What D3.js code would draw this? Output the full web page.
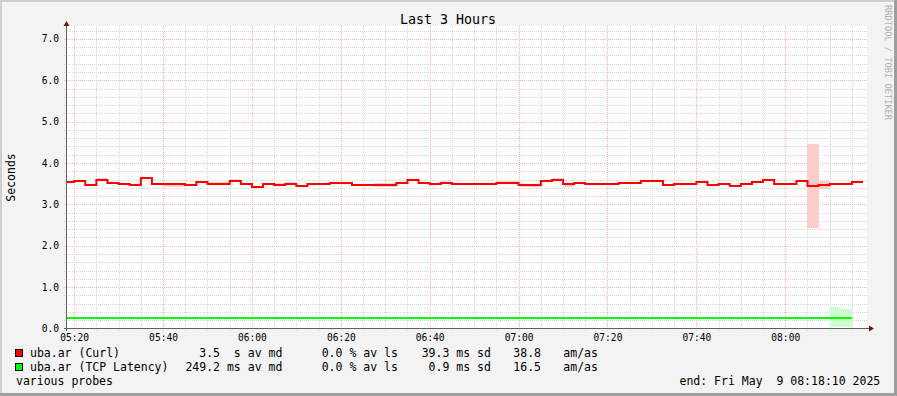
<!DOCTYPE html>
<html><head><meta charset="utf-8">
<script src="https://cdn.jsdelivr.net/npm/d3@7"></script>
<style>
html,body{margin:0;padding:0;background:#fff;}
svg{display:block;}
text{font-family:"DejaVu Sans Mono",monospace;fill:#000;white-space:pre;}
</style></head><body>
<svg id="c" width="897" height="396"></svg>
<script>
// ---------- DATA ----------
const chartTitle = "Last 3 Hours";
const yAxisTitle = "Seconds";
const watermark = "RRDTOOL / TOBI OETIKER";
const timeStart = [2025, 4, 9, 5, 18, 10];   // graph start (local)
const timeEnd   = [2025, 4, 9, 8, 18, 10];   // graph end
const binStart  = [2025, 4, 9, 5, 17, 30];   // first consolidated bin
const binSeconds = 150;

const yMajorTicks = [0, 1, 2, 3, 4, 5, 6, 7];
const yTickLabels = ["0.0", "1.0", "2.0", "3.0", "4.0", "5.0", "6.0", "7.0"];
const yMinorStep = 0.2;
const yMax = 7.3;
const xTickLabels = ["05:20", "05:40", "06:00", "06:20", "06:40", "07:00", "07:20", "07:40", "08:00"];

// Curl median (seconds), per 150 s bin
const curlMedian = [3.53, 3.56, 3.47, 3.58, 3.51, 3.49, 3.47, 3.64, 3.49, 3.49,
  3.49, 3.47, 3.53, 3.49, 3.49, 3.56, 3.49, 3.41, 3.49, 3.47,
  3.49, 3.45, 3.49, 3.49, 3.52, 3.52, 3.47, 3.47, 3.47, 3.47,
  3.52, 3.58, 3.52, 3.49, 3.52, 3.49, 3.49, 3.49, 3.49, 3.52,
  3.52, 3.47, 3.47, 3.56, 3.58, 3.49, 3.52, 3.49, 3.49, 3.49,
  3.52, 3.52, 3.56, 3.56, 3.47, 3.49, 3.49, 3.53, 3.47, 3.49,
  3.45, 3.49, 3.53, 3.58, 3.49, 3.49, 3.56, 3.45, 3.47, 3.49,
  3.49, 3.53];
const curlLow = [3.52, 3.55, 3.46, 3.57, 3.50, 3.48, 3.46, 3.63, 3.48, 3.43,
  3.43, 3.46, 3.52, 3.48, 3.48, 3.55, 3.48, 3.39, 3.48, 3.46,
  3.48, 3.44, 3.48, 3.48, 3.51, 3.51, 3.44, 3.44, 3.41, 3.41,
  3.51, 3.57, 3.51, 3.48, 3.51, 3.48, 3.48, 3.48, 3.48, 3.51,
  3.51, 3.43, 3.43, 3.55, 3.57, 3.43, 3.51, 3.48, 3.48, 3.48,
  3.51, 3.51, 3.55, 3.55, 3.46, 3.48, 3.48, 3.52, 3.44, 3.48,
  3.44, 3.48, 3.52, 3.57, 3.48, 3.48, 3.55, 2.44, 3.36, 3.48,
  3.48, 3.52];
const curlHigh = [3.56, 3.58, 3.48, 3.64, 3.52, 3.50, 3.48, 3.67, 3.50, 3.50,
  3.50, 3.48, 3.54, 3.53, 3.53, 3.61, 3.50, 3.42, 3.50, 3.52,
  3.54, 3.46, 3.50, 3.50, 3.54, 3.54, 3.48, 3.48, 3.52, 3.52,
  3.53, 3.61, 3.53, 3.50, 3.56, 3.50, 3.50, 3.50, 3.50, 3.56,
  3.56, 3.48, 3.48, 3.58, 3.64, 3.50, 3.53, 3.50, 3.50, 3.50,
  3.54, 3.54, 3.58, 3.58, 3.48, 3.50, 3.50, 3.57, 3.48, 3.50,
  3.46, 3.50, 3.54, 3.61, 3.50, 3.50, 3.57, 4.46, 3.56, 3.50,
  3.50, 3.54];

// TCP latency median (seconds), per 150 s bin
const tcpMedian = [0.249, 0.249, 0.250, 0.249, 0.249, 0.248, 0.249, 0.249, 0.250, 0.249,
  0.249, 0.249, 0.248, 0.249, 0.249, 0.249, 0.250, 0.249, 0.249, 0.249,
  0.249, 0.248, 0.249, 0.249, 0.249, 0.250, 0.249, 0.249, 0.249, 0.249,
  0.248, 0.249, 0.249, 0.249, 0.250, 0.249, 0.249, 0.249, 0.249, 0.248,
  0.249, 0.249, 0.249, 0.250, 0.249, 0.249, 0.249, 0.249, 0.248, 0.249,
  0.249, 0.249, 0.250, 0.249, 0.249, 0.249, 0.249, 0.248, 0.249, 0.249,
  0.249, 0.250, 0.249, 0.249, 0.249, 0.249, 0.248, 0.249, 0.249, 0.249,
  0.249];
const tcpLow = [0.247, 0.247, 0.248, 0.247, 0.247, 0.246, 0.247, 0.247, 0.248, 0.247,
  0.247, 0.247, 0.246, 0.247, 0.247, 0.247, 0.248, 0.247, 0.247, 0.247,
  0.247, 0.246, 0.247, 0.247, 0.247, 0.248, 0.247, 0.247, 0.247, 0.247,
  0.246, 0.247, 0.247, 0.247, 0.248, 0.247, 0.247, 0.247, 0.247, 0.246,
  0.247, 0.247, 0.247, 0.248, 0.247, 0.247, 0.247, 0.247, 0.246, 0.247,
  0.247, 0.247, 0.248, 0.247, 0.247, 0.247, 0.247, 0.246, 0.247, 0.247,
  0.247, 0.248, 0.247, 0.247, 0.247, 0.247, 0.246, 0.247, 0.247, 0.044,
  0.044];
const tcpHigh = [0.251, 0.251, 0.252, 0.251, 0.251, 0.250, 0.251, 0.251, 0.252, 0.251,
  0.251, 0.251, 0.250, 0.251, 0.251, 0.251, 0.252, 0.251, 0.251, 0.251,
  0.251, 0.250, 0.251, 0.251, 0.251, 0.252, 0.251, 0.251, 0.251, 0.251,
  0.250, 0.251, 0.251, 0.251, 0.252, 0.251, 0.251, 0.251, 0.251, 0.250,
  0.251, 0.251, 0.251, 0.252, 0.251, 0.251, 0.251, 0.251, 0.250, 0.251,
  0.251, 0.251, 0.252, 0.251, 0.251, 0.251, 0.251, 0.250, 0.251, 0.251,
  0.251, 0.252, 0.251, 0.251, 0.251, 0.251, 0.250, 0.251, 0.251, 0.513,
  0.465];

// Legend rows
const legendNames   = ["uba.ar (Curl)", "uba.ar (TCP Latency)"];
const legendColors  = ["#ff0000", "#00ff00"];
const legendMedian  = ["  3.5  s av md", "249.2 ms av md"];
const legendLoss    = ["0.0 % av ls", "0.0 % av ls"];
const legendSd      = ["39.3 ms sd", " 0.9 ms sd"];
const legendAmAs    = ["38.8", "16.5"];
const legendUnit    = ["am/as", "am/as"];
const footerLeft  = "various probes";
const footerRight = "end: Fri May  9 08:18:10 2025";

// ---------- DRAW ----------
const W = 897, H = 396;
const svg = d3.select("#c");
const mk = a => new Date(a[0], a[1], a[2], a[3], a[4], a[5]);
const t0 = mk(timeStart), t1 = mk(timeEnd), b0 = mk(binStart);

const x = d3.scaleTime().domain([t0, t1]).range([66, 866]);
const y = d3.scaleLinear().domain([0, yMax]).range([328.5, 26.5]);
const px = v => Math.round(v) + 0.5;

// background & shading
svg.append("rect").attr("width", W).attr("height", H).attr("fill", "#f3f3f3");
svg.append("rect").attr("x", 0).attr("y", 0).attr("width", W).attr("height", 2).attr("fill", "#cfcfcf");
svg.append("rect").attr("x", 0).attr("y", 0).attr("width", 2).attr("height", H).attr("fill", "#cfcfcf");
svg.append("rect").attr("x", 0).attr("y", H - 3).attr("width", W).attr("height", 3).attr("fill", "#9e9e9e");
svg.append("rect").attr("x", W - 3).attr("y", 0).attr("width", 3).attr("height", H).attr("fill", "#9e9e9e");

// canvas
svg.append("rect").attr("x", 66).attr("y", 26).attr("width", 801).attr("height", 303).attr("fill", "#ffffff");

// grid
const g = svg.append("g");
const minorX = x.ticks(d3.timeMinute.every(5));
const majorX = x.ticks(d3.timeMinute.every(20));
const majorSet = new Set(majorX.map(d => +d));
const minorY = d3.range(0, yMax + 1e-9, yMinorStep).filter(v => Math.abs(v - Math.round(v)) > 1e-6);
const minorCol = "#d6d6d6", majorCol = "#f3b4b4";

g.selectAll(".hmin").data(minorY).join("line")
  .attr("x1", 64).attr("x2", 867).attr("y1", d => px(y(d))).attr("y2", d => px(y(d)))
  .attr("stroke", minorCol).attr("stroke-dasharray", "1,1");
g.selectAll(".vmin").data(minorX.filter(d => !majorSet.has(+d))).join("line")
  .attr("y1", 26).attr("y2", 331).attr("x1", d => px(x(d))).attr("x2", d => px(x(d)))
  .attr("stroke", minorCol).attr("stroke-dasharray", "1,1");
g.selectAll(".hmaj").data(yMajorTicks.filter(v => v > 0)).join("line")
  .attr("x1", 64).attr("x2", 867).attr("y1", d => px(y(d))).attr("y2", d => px(y(d)))
  .attr("stroke", majorCol).attr("stroke-dasharray", "1,1");
g.selectAll(".vmaj").data(majorX).join("line")
  .attr("y1", 26).attr("y2", 331).attr("x1", d => px(x(d))).attr("x2", d => px(x(d)))
  .attr("stroke", majorCol).attr("stroke-dasharray", "1,1");

// clip
svg.append("clipPath").attr("id", "cp").append("rect")
  .attr("x", 66).attr("y", 26).attr("width", 801).attr("height", 303);
const data = svg.append("g").attr("clip-path", "url(#cp)");

const binT = i => new Date(+b0 + i * binSeconds * 1000);

function smoke(lo, hi, fill) {
  data.append("g").selectAll("rect").data(lo).join("rect")
    .attr("x", (d, i) => x(binT(i)))
    .attr("width", (d, i) => x(binT(i + 1)) - x(binT(i)))
    .attr("y", (d, i) => y(hi[i]))
    .attr("height", (d, i) => y(lo[i]) - y(hi[i]))
    .attr("fill", fill).attr("shape-rendering", "crispEdges");
}
function median(vals, color) {
  const pts = vals.map((v, i) => [binT(i), v]);
  pts.push([binT(vals.length), vals[vals.length - 1]]);
  data.append("path").datum(pts)
    .attr("d", d3.line().x(d => x(d[0])).y(d => Math.round(y(d[1]))).curve(d3.curveStepAfter))
    .attr("fill", "none").attr("stroke", color).attr("stroke-width", 2);
}
smoke(curlLow, curlHigh, "#ffcccc");
smoke(tcpLow, tcpHigh, "#ccffcc");
median(curlMedian, "#ff0000");
median(tcpMedian, "#00ff00");

// axes lines
svg.append("line").attr("x1", 64).attr("x2", 870).attr("y1", 328.5).attr("y2", 328.5).attr("stroke", "#606060");
svg.append("line").attr("x1", 66.5).attr("x2", 66.5).attr("y1", 331).attr("y2", 24).attr("stroke", "#606060");
svg.append("path").attr("d", "M63.5,26 L66.5,21 L69.5,26 Z").attr("fill", "#7a1414");
svg.append("path").attr("d", "M869,325.5 L874,328.5 L869,331.5 Z").attr("fill", "#7a1414");

// tick labels via d3 axes
const yAxis = d3.axisLeft(y).tickValues(yMajorTicks).tickFormat((d, i) => yTickLabels[i]).tickSize(0).tickPadding(7);
const ya = svg.append("g").attr("transform", "translate(66,0)").call(yAxis);
ya.select(".domain").remove();
ya.selectAll("text").attr("font-family", "DejaVu Sans Mono").attr("font-size", "9.6px").attr("fill", "#000");

const xAxis = d3.axisBottom(x).tickValues(majorX).tickFormat((d, i) => xTickLabels[i]).tickSize(0);
const xa = svg.append("g").attr("transform", "translate(0,328.5)").call(xAxis);
xa.select(".domain").remove();
xa.selectAll("text").attr("font-family", "DejaVu Sans Mono").attr("font-size", "9.6px").attr("fill", "#000")
  .attr("y", 12.3).attr("dy", 0);

// title
svg.append("text").attr("x", 448).attr("y", 24).attr("text-anchor", "middle")
  .attr("font-size", "13.3px").text(chartTitle);
// y title
svg.append("text").attr("transform", "translate(15,177.5) rotate(-90)").attr("text-anchor", "middle")
  .attr("font-size", "11.5px").text(yAxisTitle);
// watermark
svg.append("text").attr("transform", "translate(885,5) rotate(90)")
  .attr("font-size", "8.7px").style("fill", "#b0b0b0").text(watermark);

// legend
const rows = [357.3, 371.3];
legendNames.forEach((n, i) => {
  const by = rows[i];
  svg.append("rect").attr("x", 15.5).attr("y", by - 7.8).attr("width", 7).attr("height", 7)
    .attr("fill", legendColors[i]).attr("stroke", "#000");
  const t = (xx, s) => svg.append("text").attr("x", xx).attr("y", by).attr("font-size", "11.5px").text(s);
  t(30, n);
  t(185.4, legendMedian[i]);
  t(321.7, legendLoss[i]);
  t(421.7, legendSd[i]);
  t(513.3, legendAmAs[i]);
  t(563.3, legendUnit[i]);
});
svg.append("text").attr("x", 16).attr("y", 385.3).attr("font-size", "11.5px").text(footerLeft);
svg.append("text").attr("x", 880.3).attr("y", 385.3).attr("text-anchor", "end").attr("font-size", "11.5px").text(footerRight);
</script>
</body></html>
